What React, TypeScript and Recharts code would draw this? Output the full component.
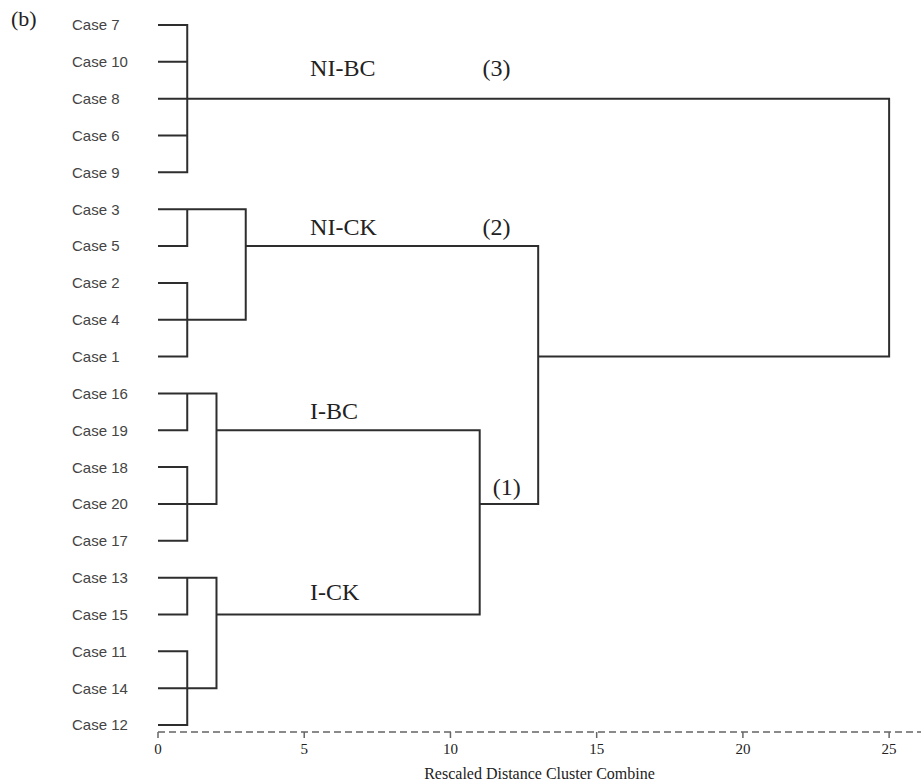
import { ComposedChart, Line, XAxis, YAxis, ReferenceDot } from 'recharts';

// leaves, top to bottom, as they appear on the dendrogram
const caseLabels = [
   'Case 7', 'Case 10', 'Case 8', 'Case 6', 'Case 9',
   'Case 3', 'Case 5', 'Case 2', 'Case 4', 'Case 1',
   'Case 16', 'Case 19', 'Case 18', 'Case 20', 'Case 17',
   'Case 13', 'Case 15', 'Case 11', 'Case 14', 'Case 12'
];

// merges: ids 0-19 are the leaves, merge k gets id 20 + k
const mergeChildren = [
   [0, 1, 2, 3, 4],
   [5, 6],
   [7, 8, 9],
   [21, 22],
   [10, 11],
   [12, 13, 14],
   [24, 25],
   [15, 16],
   [17, 18, 19],
   [27, 28],
   [26, 29],
   [23, 30],
   [20, 31]
];
const mergeDistance = [1, 1, 1, 3, 1, 1, 2, 1, 1, 2, 11, 13, 25];
// the leaf row from which each merged cluster carries on to the right
const mergeOutRow = [2, 5, 8, 6, 10, 13, 11, 15, 18, 16, 13, 9, 5];

const distanceTicks = [0, 5, 10, 15, 20, 25];

const groupNames = ['NI-BC', 'NI-CK', 'I-BC', 'I-CK', '(3)', '(2)', '(1)'];
const groupAtDistance = [5.2, 5.2, 5.2, 5.2, 11.1, 11.1, 11.45];
const groupAtRow = [1.38, 5.7, 10.7, 15.6, 1.38, 5.7, 12.76];

const nLeaves = caseLabels.length;
const heightOf = (id: number) => (id < nLeaves ? 0 : mergeDistance[id - nLeaves]);
const rowOf = (id: number) => (id < nLeaves ? id : mergeOutRow[id - nLeaves]);

type Pt = { x: number; row: number | null };
const treePoints: Pt[] = [];
mergeChildren.forEach((kids, k) => {
   const d = mergeDistance[k];
   kids.forEach((c) => {
      treePoints.push({ x: heightOf(c), row: rowOf(c) });
      treePoints.push({ x: d, row: rowOf(c) });
      treePoints.push({ x: d, row: null });
   });
   const rows = kids.map(rowOf);
   treePoints.push({ x: d, row: Math.min(...rows) });
   treePoints.push({ x: d, row: Math.max(...rows) });
   treePoints.push({ x: d, row: null });
});

const CaseTick = (props: any) => {
   const { y, payload } = props;
   return (
      <text x={72} y={y} dy='0.36em' fontFamily='Liberation Sans' fontSize={15} fill='#444'>
         {caseLabels[payload.value]}
      </text>
   );
};

export default function App() {
   return (
      <div style={{ position: 'absolute', left: 0, top: 0, width: 921, height: 784, background: '#fff' }}>
         <div
            style={{
               position: 'absolute',
               left: 11,
               top: 6,
               fontFamily: 'Liberation Serif',
               fontSize: 22,
               color: '#222'
            }}
         >
            (b)
         </div>
         <ComposedChart width={921} height={784} margin={{ top: 25, right: 0, bottom: 0, left: 0 }}>
            <XAxis
               type='number'
               dataKey='x'
               domain={[0, 26.09]}
               allowDataOverflow
               ticks={distanceTicks}
               interval={0}
               height={52}
               tickSize={6}
               tickMargin={5}
               axisLine={{ stroke: '#8a8a8a', strokeWidth: 2, strokeDasharray: '7 4' }}
               tickLine={{ stroke: '#666', strokeWidth: 1.5 }}
               tick={{ fontFamily: 'Liberation Serif', fontSize: 15, fill: '#222' }}
               label={{
                  value: 'Rescaled Distance Cluster Combine',
                  position: 'insideBottom',
                  offset: 5,
                  style: { fontFamily: 'Liberation Serif', fontSize: 16, fill: '#222' }
               }}
            />
            <YAxis
               type='number'
               dataKey='row'
               domain={[0, 19.19]}
               reversed
               ticks={caseLabels.map((_, i) => i)}
               interval={0}
               width={158}
               axisLine={false}
               tickLine={false}
               tick={<CaseTick />}
            />
            <Line
               data={treePoints}
               dataKey='row'
               stroke='#2e2e2e'
               strokeWidth={2}
               strokeLinecap='square'
               dot={false}
               activeDot={false}
               connectNulls={false}
               isAnimationActive={false}
            />
            {groupNames.map((name, i) => (
               <ReferenceDot
                  key={name}
                  x={groupAtDistance[i]}
                  y={groupAtRow[i]}
                  r={0}
                  shape={(p: any) => (
                     <text x={p.cx} y={p.cy} fontFamily='Liberation Serif' fontSize={24} fill='#222'>
                        {name}
                     </text>
                  )}
               />
            ))}
         </ComposedChart>
      </div>
   );
}
